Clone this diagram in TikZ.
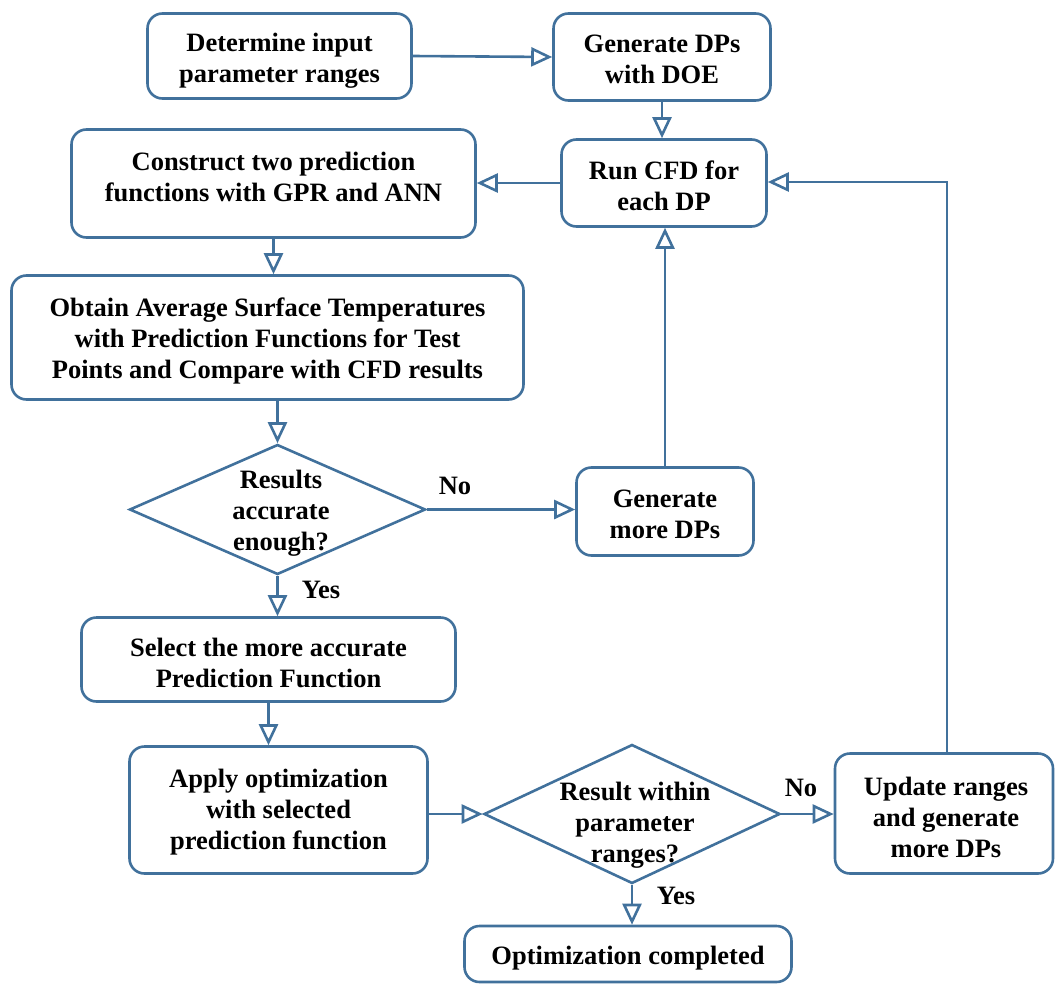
\documentclass[tikz,border=0pt]{standalone}
\usepackage{fontspec}
\setmainfont{Liberation Serif}
\usetikzlibrary{arrows.meta,shapes.geometric}
\definecolor{edge}{HTML}{41719C}
\tikzset{
  box/.style={draw=edge, line width=2.6pt, rounded corners=15pt, inner sep=0pt},
  dia/.style={draw=edge, line width=2.6pt, diamond, inner sep=0pt},
  txt/.style={inner sep=0pt, align=center, font=\bfseries\fontsize{26.5}{31}\selectfont},
  conn/.style={draw=edge, line width=2.6pt, -{Triangle[open, length=21pt, width=19pt, line width=2.6pt]}},
}
\begin{document}
\begin{tikzpicture}[x=1pt,y=-1pt]
\useasboundingbox (0,0) rectangle (1055,985);
\node[box, minimum width=264, minimum height=85] (b1) at (279.5,56) {};
\node[txt] (b1t) at (279.5,60.5) {Determine input\\parameter ranges};
\node[box, minimum width=217, minimum height=87] (b2) at (662,57) {};
\node[txt] (b2t) at (662,59) {Generate DPs\\with DOE};
\node[box, minimum width=404, minimum height=108] (b3) at (273.5,183.5) {};
\node[txt] (b3t) at (273.5,177) {Construct two prediction\\functions with GPR and ANN};
\node[box, minimum width=205, minimum height=87] (b4) at (664,183) {};
\node[txt] (b4t) at (664,185.5) {Run CFD for\\each DP};
\node[box, minimum width=512, minimum height=124] (b5) at (267.5,337.5) {};
\node[txt] (b5t) at (267.5,340.5) {Obtain Average Surface Temperatures\\with Prediction Functions for Test\\Points and Compare with CFD results};
\node[dia, minimum width=296, minimum height=130] (d1) at (277.5,509.5) {};
\node[txt] (d1t) at (281,513) {Results\\accurate\\enough?};
\node[box, minimum width=177, minimum height=88] (b7) at (665,511.5) {};
\node[txt] (b7t) at (665,514) {Generate\\more DPs};
\node[box, minimum width=374, minimum height=84] (b8) at (268.5,659.5) {};
\node[txt] (b8t) at (268.5,662.5) {Select the more accurate\\Prediction Function};
\node[box, minimum width=298, minimum height=127] (b9) at (278.5,810) {};
\node[txt] (b9t) at (278.5,812.5) {Apply optimization\\with selected\\prediction function};
\node[dia, minimum width=296, minimum height=139] (d2) at (632,814) {};
\node[txt] (d2t) at (635,825) {Result within\\parameter\\ranges?};
\node[box, minimum width=218, minimum height=120] (b11) at (944,813.5) {};
\node[txt] (b11t) at (946,817) {Update ranges\\and generate\\more DPs};
\node[box, minimum width=327, minimum height=56] (b12) at (628,954) {};
\node[txt] (b12t) at (628,958) {Optimization completed};
\node[txt] (l1) at (455,486) {No};
\node[txt] (l2) at (321,590) {Yes};
\node[txt] (l3) at (801,788) {No};
\node[txt] (l4) at (676,896) {Yes};
\coordinate (u) at (947,182);
\draw[conn] (b1.east) -- (b2.west);
\draw[conn] (b2.south) -- (b2.south |- b4.north);
\draw[conn] (b4.west) -- (b3.east |- b4.west);
\draw[conn] (b3.south) -- (b3.south |- b5.north);
\draw[conn] (d1.north |- b5.south) -- (d1.north);
\draw[conn] (d1.east) -- (b7.west |- d1.east);
\draw[conn] (b7.north) -- (b7.north |- b4.south);
\draw[conn] (d1.south) -- (d1.south |- b8.north);
\draw[conn] (b8.south) -- (b8.south |- b9.north);
\draw[conn] (b9.east |- d2.west) -- (d2.west);
\draw[conn] (d2.east) -- (b11.west |- d2.east);
\draw[conn] (d2.south) -- (d2.south |- b12.north);
\draw[conn] (b11.north -| u) -- (u) -- (b4.east |- u);
\end{tikzpicture}
\end{document}
